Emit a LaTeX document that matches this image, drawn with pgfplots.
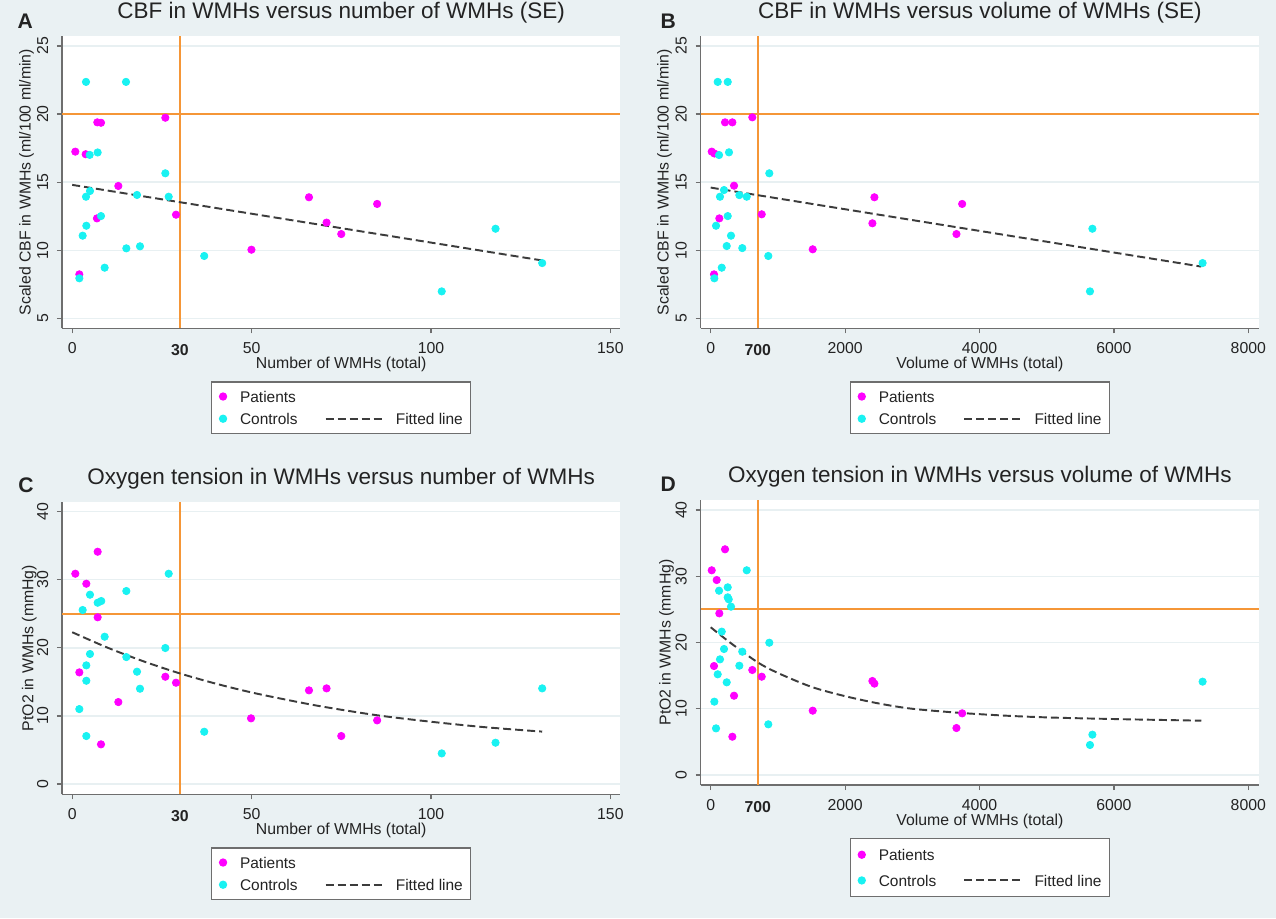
\documentclass[border=0pt]{standalone}
\usepackage{fontspec}
\setmainfont{Liberation Sans}
\usepackage{pgfplots}
\pgfplotsset{compat=1.18}

\definecolor{bgc}{RGB}{234,241,243}
\definecolor{gridc}{RGB}{232,240,242}
\definecolor{axgray}{RGB}{110,110,110}
\definecolor{pmag}{RGB}{255,0,255}
\definecolor{ccyan}{RGB}{25,242,242}
\definecolor{refor}{RGB}{245,150,55}
\definecolor{fitc}{RGB}{60,60,60}
\definecolor{txt}{RGB}{35,35,35}

\pgfplotsset{
  panel/.style={
    scale only axis,
    anchor=south west,
    axis background/.style={fill=white},
    axis x line*=bottom, axis y line*=left,
    axis line style={draw=axgray, line width=0.7pt, -},
    tick align=outside, major tick length=0.1cm,
    every tick/.style={draw=axgray, line width=0.7pt},
    ymajorgrids, grid style={draw=gridc, line width=0.8pt},
    tick label style={font=\fontsize{9}{10}\selectfont, text=txt},
    /pgf/number format/assume math mode=true,
    /pgf/number format/set thousands separator={},
    yticklabel style={xshift=-0.166cm, rotate=90, anchor=south, inner sep=0pt},
    xticklabel style={anchor=north, inner sep=0pt},
    xticklabel shift=0.178cm,
    label style={font=\fontsize{9}{10}\selectfont, text=txt},
    ylabel style={anchor=center},
    xlabel style={anchor=base},
    title style={at={(axis description cs:0.5,1)}, anchor=base, yshift=0.14cm,
                 font=\fontsize{12.8}{14}\selectfont, text=txt},
    extra x tick style={major tick length=0pt, xticklabel shift=0.324cm},
    legend columns=2, legend cell align=left,
    legend style={draw=axgray, line width=0.7pt, fill=white, text=txt,
                  at={(0.5,0)}, anchor=north, yshift=-1.06cm,
                  font=\fontsize{8.8}{10}\selectfont,
                  inner xsep=0.16cm, inner ysep=0.18cm, row sep=0.22cm,
                  nodes={inner sep=0pt, text depth=0pt},
                  /tikz/every even column/.append style={column sep=0.54cm}},
  },
  pat/.style={only marks, mark=*, mark size=2.1pt, color=pmag, forget plot},
  con/.style={only marks, mark=*, mark size=2.1pt, color=ccyan, forget plot},
  refl/.style={draw=refor, line width=1pt, forget plot},
  fitl/.style={draw=fitc, line width=1.1pt, dash pattern=on 0.16cm off 0.08cm, forget plot},
  patleg/.style={only marks, mark=*, mark size=2pt, color=pmag,
    legend image code/.code={\draw[##1] plot coordinates {(0.07cm,0cm)};
      \path[draw=none,fill=none] (0cm,0cm) -- (0.41cm,0cm);}},
  conleg/.style={only marks, mark=*, mark size=2pt, color=ccyan,
    legend image code/.code={\draw[##1] plot coordinates {(0.07cm,0cm)};
      \path[draw=none,fill=none] (0cm,0cm) -- (0.41cm,0cm);}},
  fitleg/.style={draw=fitc, line width=1.1pt, dash pattern=on 0.16cm off 0.08cm,
    legend image code/.code={\draw[##1] (0cm,0cm) -- (1.2cm,0cm);
      \path[draw=none,fill=none] (0cm,0cm) -- (1.404cm,0cm);}},
}

\begin{document}
\begin{tikzpicture}
\useasboundingbox (0,0) rectangle (25.52,-18.36);
\fill[bgc] (0,0) rectangle (25.52,-18.36);

% ---------------- A ----------------
\begin{axis}[panel, at={(1.24cm,-6.566cm)}, width=11.168cm, height=5.846cm,
  xmin=-2.84, xmax=152.8, ymin=4.27, ymax=25.73,
  xtick={0,50,100,150}, ytick={5,10,15,20,25},
  extra x ticks={30}, extra x tick labels={\textbf{30}},
  title={CBF in WMHs versus number of WMHs (SE)},
  xlabel={Number of WMHs (total)},
  ylabel={Scaled CBF in WMHs (ml/100 ml/min)},
  xlabel style={at={(axis description cs:0.5,-0.1368)}},
  ylabel style={at={(axis description cs:-0.0636,0.5)}}]
\addplot[refl] coordinates {(-2.84,20) (152.8,20)};
\addplot[refl] coordinates {(30,4.27) (30,25.73)};
\addplot[pat] coordinates {(0.87,17.24) (3.76,17.05) (7.0,19.39) (8.03,19.36) (25.96,19.73)
  (12.86,14.72) (6.9,12.34) (28.94,12.61) (1.99,8.23) (49.96,10.04) (66.0,13.89)
  (70.9,12.03) (75.0,11.19) (85.0,13.4)};
\addplot[con] coordinates {(3.85,22.36) (15.0,22.36) (4.87,17.0) (7.1,17.18) (25.96,15.65)
  (4.96,14.35) (3.85,13.93) (18.07,14.06) (26.9,13.93) (8.03,12.51) (3.94,11.8)
  (2.92,11.07) (15.09,10.14) (18.9,10.29) (36.8,9.58) (9.05,8.72) (1.99,7.94)
  (103.0,6.98) (118.0,11.58) (131.0,9.06)};
\addplot[fitl] coordinates {(0,14.8) (131,9.25)};
\addlegendimage{patleg}\addlegendentry{Patients}
\addlegendimage{empty legend}\addlegendentry{}
\addlegendimage{conleg}\addlegendentry{Controls}
\addlegendimage{fitleg}\addlegendentry{Fitted line}
\end{axis}

% ---------------- B ----------------
\begin{axis}[panel, at={(14.01cm,-6.566cm)}, width=11.176cm, height=5.846cm,
  xmin=-152, xmax=8164, ymin=4.27, ymax=25.73,
  xtick={0,2000,4000,6000,8000}, ytick={5,10,15,20,25},
  extra x ticks={700}, extra x tick labels={\textbf{700}},
  title={CBF in WMHs versus volume of WMHs (SE)},
  xlabel={Volume of WMHs (total)},
  ylabel={Scaled CBF in WMHs (ml/100 ml/min)},
  xlabel style={at={(axis description cs:0.5,-0.1368)}},
  ylabel style={at={(axis description cs:-0.0642,0.5)}}]
\addplot[refl] coordinates {(-152,20) (8164,20)};
\addplot[refl] coordinates {(700,4.27) (700,25.73)};
\addplot[pat] coordinates {(15,17.24) (55,17.1) (213,19.39) (322,19.39) (619,19.76)
  (347,14.74) (128,12.34) (759,12.64) (1518,10.07) (49,8.23) (2436,13.89)
  (2406,11.98) (3657,11.19) (3742,13.4)};
\addplot[con] coordinates {(104,22.36) (253,22.36) (124,16.99) (272,17.19) (872,15.65)
  (198,14.42) (138,13.93) (426,14.05) (536,13.93) (253,12.51) (79,11.8) (302,11.07)
  (238,10.31) (470,10.16) (857,9.58) (164,8.72) (54,7.94) (5644,6.98) (5680,11.58)
  (7320,9.06)};
\addplot[fitl] coordinates {(0,14.6) (7300,8.8)};
\addlegendimage{patleg}\addlegendentry{Patients}
\addlegendimage{empty legend}\addlegendentry{}
\addlegendimage{conleg}\addlegendentry{Controls}
\addlegendimage{fitleg}\addlegendentry{Fitted line}
\end{axis}

% ---------------- C ----------------
\begin{axis}[panel, at={(1.24cm,-15.886cm)}, width=11.168cm, height=5.852cm,
  xmin=-2.84, xmax=152.8, ymin=-1.51, ymax=41.47,
  xtick={0,50,100,150}, ytick={0,10,20,30,40},
  extra x ticks={30}, extra x tick labels={\textbf{30}},
  title={Oxygen tension in WMHs versus number of WMHs},
  xlabel={Number of WMHs (total)},
  ylabel={PtO2 in WMHs (mmHg)},
  xlabel style={at={(axis description cs:0.5,-0.1367)}},
  ylabel style={at={(axis description cs:-0.0584,0.5)}}]
\addplot[refl] coordinates {(-2.84,25) (152.8,25)};
\addplot[refl] coordinates {(30,-1.51) (30,41.47)};
\addplot[pat] coordinates {(7.1,34.12) (0.87,30.89) (3.94,29.42) (7.1,24.49) (1.99,16.4)
  (25.96,15.76) (28.94,14.88) (12.86,12.04) (49.85,9.65) (8.03,5.83) (66.0,13.76)
  (70.9,14.05) (75.0,7.05) (85.0,9.35)};
\addplot[con] coordinates {(26.9,30.89) (15.09,28.35) (4.96,27.81) (7.1,26.63) (8.1,26.88)
  (2.92,25.56) (9.05,21.64) (25.96,19.98) (4.96,19.1) (15.09,18.65) (3.94,17.43)
  (18.07,16.5) (3.94,15.17) (18.9,14.0) (1.99,11.01) (36.8,7.68) (3.94,7.05)
  (103.0,4.5) (118.0,6.07) (131.0,14.05)};
\addplot[fitl, smooth] coordinates {(0,22.3) (10,20.0) (20,18.0) (30,16.25) (40,14.75)
  (50,13.45) (60,12.35) (70,11.35) (85,10.1) (100,9.15) (115,8.35) (131,7.7)};
\addlegendimage{patleg}\addlegendentry{Patients}
\addlegendimage{empty legend}\addlegendentry{}
\addlegendimage{conleg}\addlegendentry{Controls}
\addlegendimage{fitleg}\addlegendentry{Fitted line}
\end{axis}

% ---------------- D ----------------
\begin{axis}[panel, at={(14.01cm,-15.7cm)}, width=11.176cm, height=5.70cm,
  xmin=-152, xmax=8164, ymin=-1.51, ymax=41.51,
  xtick={0,2000,4000,6000,8000}, ytick={0,10,20,30,40},
  extra x ticks={700}, extra x tick labels={\textbf{700}},
  title={Oxygen tension in WMHs versus volume of WMHs},
  xlabel={Volume of WMHs (total)},
  ylabel={PtO2 in WMHs (mmHg)},
  xlabel style={at={(axis description cs:0.5,-0.1404)}},
  ylabel style={at={(axis description cs:-0.0607,0.5)}},
  legend style={row sep=0.29cm, inner ysep=0.21cm}]
\addplot[refl] coordinates {(-152,25.02) (8164,25.02)};
\addplot[refl] coordinates {(700,-1.51) (700,41.51)};
\addplot[pat] coordinates {(213,34.07) (15,30.9) (89,29.43) (128,24.4) (619,15.85)
  (49,16.45) (759,14.84) (347,11.97) (1518,9.71) (322,5.78) (2406,14.19)
  (2436,13.79) (3657,7.09) (3742,9.31)};
\addplot[con] coordinates {(536,30.9) (253,28.33) (124,27.82) (253,26.82) (268,26.52)
  (302,25.41) (164,21.64) (872,19.97) (198,19.02) (470,18.61) (138,17.46) (426,16.5)
  (104,15.2) (238,13.99) (54,11.07) (857,7.65) (79,7.04) (5644,4.53) (5680,6.09)
  (7320,14.09)};
\addplot[fitl, smooth] coordinates {(0,22.3) (300,19.9) (700,17.0) (1000,15.4) (1500,13.3)
  (2000,11.9) (2500,10.8) (3000,10.0) (3750,9.35) (4500,8.9) (5150,8.65) (6000,8.45)
  (6500,8.35) (7300,8.2)};
\addlegendimage{patleg}\addlegendentry{Patients}
\addlegendimage{empty legend}\addlegendentry{}
\addlegendimage{conleg}\addlegendentry{Controls}
\addlegendimage{fitleg}\addlegendentry{Fitted line}
\end{axis}

% panel letters
\node[anchor=base west, font=\fontsize{12}{14}\selectfont\bfseries, text=txt] at (0.228,-0.566) {A};
\node[anchor=base west, font=\fontsize{12}{14}\selectfont\bfseries, text=txt] at (13.09,-0.566) {B};
\node[anchor=base west, font=\fontsize{12}{14}\selectfont\bfseries, text=txt] at (0.244,-9.84) {C};
\node[anchor=base west, font=\fontsize{12}{14}\selectfont\bfseries, text=txt] at (13.09,-9.834) {D};
\end{tikzpicture}
\end{document}
